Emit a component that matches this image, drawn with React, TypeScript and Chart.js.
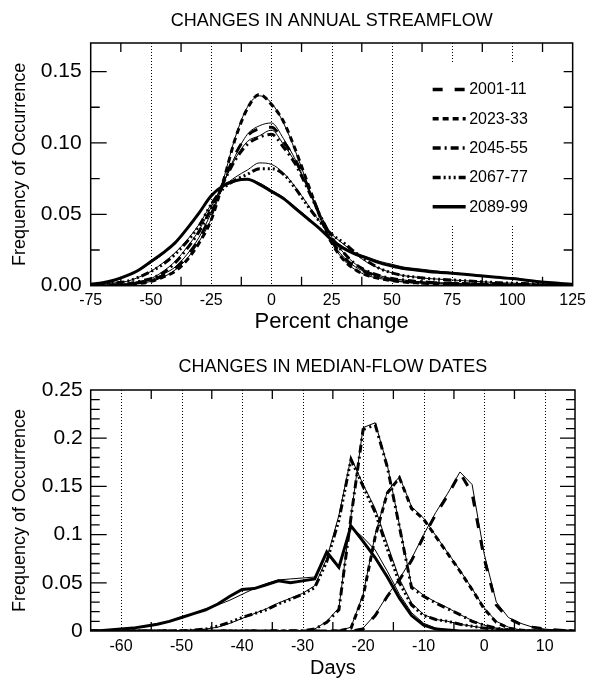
import React, { useEffect, useRef } from "react";
import { Chart, registerables } from "chart.js";

Chart.register(...registerables);

const FONT = "'Liberation Sans', Arial, Helvetica, sans-serif";

// ---------- DATA: top panel (annual streamflow) ----------
const periods = ["2001-11", "2023-33", "2045-55", "2067-77", "2089-99"];

const pctChange = [-75, -70, -65, -60, -55, -50, -45, -40, -35, -30, -25, -20, -15, -10, -5, 0, 5, 10, 15, 20, 25, 30, 35, 40, 45, 50, 55, 60, 65, 70, 75, 80, 85, 90, 95, 100, 105, 110, 115, 120, 125];

const flow2001 = [0, 0, 0.0005, 0.001, 0.002, 0.004, 0.007, 0.012, 0.021, 0.033, 0.050, 0.072, 0.092, 0.105, 0.110, 0.111, 0.101, 0.088, 0.070, 0.050, 0.032, 0.020, 0.013, 0.009, 0.006, 0.004, 0.003, 0.0025, 0.002, 0.002, 0.0015, 0.0012, 0.001, 0.001, 0.0008, 0.0006, 0.0005, 0.0004, 0.0003, 0.0002, 0];
const flow2001Thin = [0, 0, 0.0005, 0.001, 0.002, 0.004, 0.008, 0.013, 0.022, 0.034, 0.051, 0.071, 0.091, 0.106, 0.112, 0.114, 0.103, 0.088, 0.069, 0.049, 0.031, 0.020, 0.013, 0.009, 0.006, 0.004, 0.003, 0.0025, 0.002, 0.0018, 0.0015, 0.0012, 0.001, 0.0009, 0.0008, 0.0006, 0.0005, 0.0004, 0.0003, 0.0002, 0];
const flow2023 = [0, 0, 0.0003, 0.0008, 0.0015, 0.003, 0.006, 0.010, 0.018, 0.030, 0.046, 0.073, 0.103, 0.124, 0.134, 0.127, 0.115, 0.095, 0.072, 0.049, 0.030, 0.018, 0.011, 0.007, 0.005, 0.0035, 0.0025, 0.002, 0.0015, 0.0012, 0.001, 0.0009, 0.0008, 0.0007, 0.0006, 0.0005, 0.0004, 0.0003, 0.0002, 0.0001, 0];
const flow2023Thin = [0, 0, 0.0003, 0.0008, 0.0016, 0.003, 0.006, 0.011, 0.019, 0.031, 0.047, 0.074, 0.104, 0.125, 0.133, 0.128, 0.114, 0.094, 0.071, 0.048, 0.030, 0.018, 0.011, 0.007, 0.005, 0.0035, 0.0025, 0.002, 0.0015, 0.0012, 0.001, 0.0009, 0.0008, 0.0007, 0.0006, 0.0005, 0.0004, 0.0003, 0.0002, 0.0001, 0];
const flow2045 = [0, 0, 0.0005, 0.001, 0.003, 0.005, 0.009, 0.016, 0.026, 0.038, 0.054, 0.072, 0.088, 0.099, 0.104, 0.106, 0.097, 0.085, 0.068, 0.050, 0.034, 0.023, 0.015, 0.010, 0.007, 0.005, 0.004, 0.003, 0.0025, 0.002, 0.0018, 0.0015, 0.0012, 0.001, 0.0008, 0.0006, 0.0005, 0.0004, 0.0003, 0.0002, 0.0001];
const flow2045Thin = [0, 0, 0.0005, 0.001, 0.003, 0.005, 0.010, 0.017, 0.027, 0.039, 0.055, 0.072, 0.089, 0.101, 0.105, 0.109, 0.099, 0.086, 0.069, 0.051, 0.034, 0.023, 0.015, 0.010, 0.007, 0.005, 0.004, 0.003, 0.0025, 0.002, 0.0018, 0.0015, 0.0012, 0.001, 0.0008, 0.0006, 0.0005, 0.0004, 0.0003, 0.0002, 0.0001];
const flow2067 = [0, 0.001, 0.002, 0.003, 0.006, 0.010, 0.015, 0.022, 0.031, 0.042, 0.057, 0.068, 0.074, 0.078, 0.082, 0.082, 0.078, 0.068, 0.056, 0.045, 0.036, 0.030, 0.023, 0.017, 0.012, 0.009, 0.007, 0.006, 0.005, 0.0045, 0.004, 0.0035, 0.003, 0.0025, 0.002, 0.0018, 0.0015, 0.0012, 0.001, 0.0008, 0.0005];
const flow2067Thin = [0, 0.001, 0.002, 0.003, 0.006, 0.010, 0.016, 0.023, 0.032, 0.043, 0.057, 0.069, 0.076, 0.081, 0.086, 0.085, 0.079, 0.069, 0.057, 0.045, 0.036, 0.029, 0.022, 0.016, 0.012, 0.009, 0.007, 0.006, 0.005, 0.0045, 0.004, 0.0035, 0.003, 0.0025, 0.002, 0.0018, 0.0015, 0.0012, 0.001, 0.0008, 0.0005];
const flow2089 = [0.001, 0.002, 0.004, 0.007, 0.011, 0.017, 0.023, 0.030, 0.040, 0.051, 0.063, 0.070, 0.0735, 0.0745, 0.071, 0.066, 0.061, 0.054, 0.047, 0.040, 0.032, 0.026, 0.022, 0.019, 0.016, 0.0138, 0.012, 0.011, 0.010, 0.0093, 0.0087, 0.008, 0.0072, 0.0064, 0.0057, 0.005, 0.004, 0.003, 0.0022, 0.0015, 0.001];
const flow2089Thin = [0.001, 0.002, 0.004, 0.007, 0.011, 0.016, 0.022, 0.030, 0.040, 0.051, 0.062, 0.070, 0.074, 0.0745, 0.072, 0.067, 0.062, 0.055, 0.048, 0.040, 0.033, 0.027, 0.023, 0.020, 0.017, 0.015, 0.013, 0.012, 0.011, 0.010, 0.0092, 0.0083, 0.0075, 0.0066, 0.0058, 0.005, 0.0042, 0.0033, 0.0024, 0.0016, 0.001];

const topXTicks = [-75, -50, -25, 0, 25, 50, 75, 100, 125];
const topYTicks = [0, 0.05, 0.1, 0.15];

// ---------- DATA: bottom panel (median-flow dates) ----------
const days = [-65, -64, -62, -60, -58, -56, -54, -52, -50, -48, -46, -44, -42, -40, -38, -36, -34, -32, -30, -28, -26, -24, -22, -20, -18, -16, -14, -12, -10, -8, -6, -4, -2, 0, 2, 4, 6, 8, 10, 12, 14, 15];

const date2001 = [0, 0, 0, 0, 0, 0, 0, 0, 0, 0, 0, 0, 0, 0, 0, 0, 0, 0, 0, 0, 0, 0, 0, 0.002, 0.016, 0.036, 0.053, 0.073, 0.098, 0.121, 0.141, 0.164, 0.143, 0.075, 0.027, 0.013, 0.007, 0.004, 0.002, 0.001, 0, 0];
const date2001Thin = [0, 0, 0, 0, 0, 0, 0, 0, 0, 0, 0, 0, 0, 0, 0, 0, 0, 0, 0, 0, 0, 0, 0, 0.003, 0.017, 0.037, 0.054, 0.075, 0.100, 0.123, 0.143, 0.165, 0.152, 0.080, 0.030, 0.014, 0.008, 0.004, 0.002, 0.001, 0, 0];
const date2023 = [0, 0, 0, 0, 0, 0, 0, 0, 0, 0, 0, 0, 0, 0, 0, 0, 0, 0, 0, 0, 0, 0, 0.003, 0.036, 0.098, 0.143, 0.159, 0.127, 0.116, 0.098, 0.080, 0.062, 0.043, 0.023, 0.009, 0.003, 0.001, 0, 0, 0, 0, 0];
const date2023Thin = [0, 0, 0, 0, 0, 0, 0, 0, 0, 0, 0, 0, 0, 0, 0, 0, 0, 0, 0, 0, 0, 0, 0.004, 0.038, 0.100, 0.145, 0.160, 0.129, 0.117, 0.099, 0.081, 0.063, 0.044, 0.024, 0.010, 0.004, 0.001, 0, 0, 0, 0, 0];
const date2045 = [0, 0, 0, 0, 0, 0, 0, 0, 0, 0, 0, 0, 0, 0, 0, 0, 0, 0, 0, 0.002, 0.009, 0.022, 0.118, 0.209, 0.214, 0.170, 0.108, 0.045, 0.036, 0.029, 0.023, 0.017, 0.010, 0.006, 0.003, 0.001, 0, 0, 0, 0, 0, 0];
const date2045Thin = [0, 0, 0, 0, 0, 0, 0, 0, 0, 0, 0, 0, 0, 0, 0, 0, 0, 0, 0, 0.002, 0.010, 0.024, 0.120, 0.211, 0.216, 0.172, 0.110, 0.047, 0.037, 0.030, 0.024, 0.017, 0.011, 0.006, 0.003, 0.001, 0, 0, 0, 0, 0, 0];
const date2067 = [0, 0, 0, 0, 0, 0, 0, 0, 0, 0.001, 0.002, 0.005, 0.009, 0.014, 0.018, 0.022, 0.028, 0.033, 0.038, 0.045, 0.072, 0.115, 0.178, 0.150, 0.123, 0.085, 0.050, 0.027, 0.016, 0.012, 0.010, 0.007, 0.005, 0.003, 0.002, 0.001, 0, 0, 0, 0, 0, 0];
const date2067Thin = [0, 0, 0, 0, 0, 0, 0, 0, 0, 0.001, 0.002, 0.004, 0.008, 0.013, 0.018, 0.023, 0.029, 0.034, 0.039, 0.047, 0.075, 0.120, 0.180, 0.152, 0.127, 0.090, 0.054, 0.029, 0.017, 0.012, 0.010, 0.007, 0.005, 0.003, 0.002, 0.001, 0, 0, 0, 0, 0, 0];
const date2089 = [0, 0, 0.001, 0.002, 0.003, 0.005, 0.007, 0.010, 0.014, 0.018, 0.022, 0.028, 0.036, 0.043, 0.044, 0.048, 0.052, 0.050, 0.052, 0.054, 0.082, 0.066, 0.109, 0.093, 0.076, 0.056, 0.034, 0.016, 0.006, 0.002, 0.001, 0, 0, 0, 0, 0, 0, 0, 0, 0, 0, 0];
const date2089Thin = [0, 0, 0.001, 0.002, 0.003, 0.005, 0.007, 0.010, 0.014, 0.018, 0.023, 0.027, 0.032, 0.038, 0.044, 0.049, 0.053, 0.054, 0.055, 0.056, 0.080, 0.065, 0.108, 0.097, 0.084, 0.062, 0.038, 0.019, 0.008, 0.003, 0.001, 0, 0, 0, 0, 0, 0, 0, 0, 0, 0, 0];

const botXTicks = [-60, -50, -40, -30, -20, -10, 0, 10];
const botYTicks = [0, 0.05, 0.1, 0.15, 0.2, 0.25];

// ---------- styles ----------
const dashes = [[10, 12], [6, 4], [8, 4, 2, 4], [8, 3, 2, 3, 2, 3, 2, 3], []];
const THICK = 3;

type Deco = {
  grid: number[];
  xMinor: number[];
  yMajor: number[];
  yMinor: number[];
  rightMajorLen: number;
  legend: boolean;
};

function makeDatasets(xs: number[], thick: number[][], thin: number[][], smooth: boolean) {
  const ds: any[] = [];
  thick.forEach((vals, i) => {
    ds.push({
      label: periods[i],
      data: xs.map((x, j) => ({ x, y: vals[j] })),
      borderColor: "#000",
      borderWidth: THICK,
      borderDash: dashes[i],
      borderCapStyle: "butt",
      pointRadius: 0,
      fill: false,
      cubicInterpolationMode: smooth ? "monotone" : "default",
    });
  });
  thin.forEach((vals, i) => {
    ds.push({
      label: periods[i] + " (thin)",
      data: xs.map((x, j) => ({ x, y: vals[j] })),
      borderColor: "#000",
      borderWidth: 1,
      pointRadius: 0,
      fill: false,
      cubicInterpolationMode: smooth ? "monotone" : "default",
    });
  });
  return ds;
}

function framePlugin(d: Deco) {
  return {
    id: "frame",
    beforeDatasetsDraw(chart: any) {
      const { ctx, chartArea: a, scales } = chart;
      const x = scales.x;
      ctx.save();
      ctx.strokeStyle = "#000";
      ctx.lineWidth = 1;
      ctx.setLineDash([1, 2]);
      for (const v of d.grid) {
        const px = Math.round(x.getPixelForValue(v)) + 0.5;
        ctx.beginPath();
        ctx.moveTo(px, a.top);
        ctx.lineTo(px, a.bottom);
        ctx.stroke();
      }
      ctx.restore();
    },
    afterDatasetsDraw(chart: any) {
      const { ctx, chartArea: a, scales } = chart;
      const x = scales.x;
      const y = scales.y;
      ctx.save();
      if (d.legend) {
        ctx.fillStyle = "#fff";
        ctx.fillRect(a.right - 146, a.top + 20, 112, 163);
        ctx.font = "16px " + FONT;
        ctx.textBaseline = "middle";
        ctx.textAlign = "left";
        periods.forEach((p, i) => {
          const ry = a.top + 46.5 + i * 29.3;
          ctx.strokeStyle = "#000";
          ctx.lineWidth = 3.5;
          ctx.lineCap = "butt";
          ctx.setLineDash(dashes[i]);
          ctx.beginPath();
          ctx.moveTo(a.right - 140, ry);
          ctx.lineTo(a.right - 107, ry);
          ctx.stroke();
          ctx.setLineDash([]);
          ctx.fillStyle = "#000";
          ctx.fillText(p, a.right - 103.5, ry + 0.5);
        });
      }
      ctx.setLineDash([]);
      ctx.strokeStyle = "#000";
      ctx.lineWidth = 1.5;
      ctx.strokeRect(a.left, a.top, a.right - a.left, a.bottom - a.top);
      ctx.lineWidth = 1.3;
      ctx.beginPath();
      for (const v of d.yMajor) {
        const py = y.getPixelForValue(v);
        ctx.moveTo(a.left, py);
        ctx.lineTo(a.left + 16, py);
        ctx.moveTo(a.right, py);
        ctx.lineTo(a.right - d.rightMajorLen, py);
      }
      for (const v of d.yMinor) {
        const py = y.getPixelForValue(v);
        ctx.moveTo(a.left, py);
        ctx.lineTo(a.left + 9, py);
        ctx.moveTo(a.right, py);
        ctx.lineTo(a.right - 9, py);
      }
      for (const v of d.xMinor) {
        const px = x.getPixelForValue(v);
        ctx.moveTo(px, a.top);
        ctx.lineTo(px, a.top + 9);
        ctx.moveTo(px, a.bottom);
        ctx.lineTo(px, a.bottom - 9);
      }
      ctx.stroke();
      ctx.restore();
    },
  };
}

function baseOptions(opts: {
  title: string;
  titlePad: { top: number; bottom: number };
  rightPad: number;
  xMin: number;
  xMax: number;
  xTicks: number[];
  xHeight: number;
  xPad: number;
  xTitle: string;
  xTitleSize: number;
  xTitlePad: number;
  yMax: number;
  yTicks: number[];
  yPad: number;
  yFmt: (v: number) => string;
}) {
  return {
    responsive: false,
    animation: false,
    devicePixelRatio: 1,
    events: [],
    layout: { padding: { top: 0, right: opts.rightPad, bottom: 0, left: 0 } },
    plugins: {
      legend: { display: false },
      tooltip: { enabled: false },
      title: {
        display: true,
        text: opts.title,
        fullSize: false,
        color: "#000",
        font: { size: 18, family: FONT, weight: "normal", lineHeight: 1.2 },
        padding: opts.titlePad,
      },
    },
    scales: {
      x: {
        type: "linear",
        min: opts.xMin,
        max: opts.xMax,
        afterBuildTicks: (s: any) => {
          s.ticks = opts.xTicks.map((v) => ({ value: v }));
        },
        afterFit: (s: any) => {
          s.height = opts.xHeight;
        },
        grid: { display: false, drawTicks: false },
        border: { display: false },
        ticks: {
          color: "#000",
          font: { size: 16, family: FONT },
          padding: opts.xPad,
          autoSkip: false,
          maxRotation: 0,
          callback: (v: any) => String(v),
        },
        title: {
          display: true,
          text: opts.xTitle,
          color: "#000",
          font: { size: opts.xTitleSize, family: FONT, lineHeight: 1.2 },
          padding: { top: 0, bottom: opts.xTitlePad },
        },
      },
      y: {
        type: "linear",
        min: 0,
        max: opts.yMax,
        afterBuildTicks: (s: any) => {
          s.ticks = opts.yTicks.map((v) => ({ value: v }));
        },
        afterFit: (s: any) => {
          s.width = 90.7;
        },
        grid: { display: false, drawTicks: false },
        border: { display: false },
        ticks: {
          color: "#000",
          font: { size: 21, family: FONT },
          padding: opts.yPad,
          autoSkip: false,
          callback: (v: any) => opts.yFmt(Number(v)),
        },
        title: {
          display: true,
          text: "Frequency of Occurrence",
          color: "#000",
          font: { size: 18, family: FONT, lineHeight: 1.2 },
          padding: { top: 9, bottom: 0 },
        },
      },
    },
  };
}

function topConfig(): any {
  return {
    type: "line",
    data: {
      datasets: makeDatasets(
        pctChange,
        [flow2001, flow2023, flow2045, flow2067, flow2089],
        [flow2001Thin, flow2023Thin, flow2045Thin, flow2067Thin, flow2089Thin],
        true
      ),
    },
    options: baseOptions({
      title: "CHANGES IN ANNUAL STREAMFLOW",
      titlePad: { top: 10.2, bottom: 11.2 },
      rightPad: 15.7,
      xMin: -75,
      xMax: 125,
      xTicks: topXTicks,
      xHeight: 55.3,
      xPad: 5,
      xTitle: "Percent change",
      xTitleSize: 22,
      xTitlePad: 5.4,
      yMax: 0.17,
      yTicks: topYTicks,
      yPad: 9,
      yFmt: (v) => v.toFixed(2),
    }),
    plugins: [
      framePlugin({
        grid: [-50, -25, 0, 25, 50, 75, 100],
        xMinor: [-62.5, -37.5, -12.5, 12.5, 37.5, 62.5, 87.5, 112.5],
        yMajor: [0.05, 0.1, 0.15],
        yMinor: [0.025, 0.075, 0.125],
        rightMajorLen: 9,
        legend: true,
      }),
    ],
  };
}

function bottomConfig(): any {
  return {
    type: "line",
    data: {
      datasets: makeDatasets(
        days,
        [date2001, date2023, date2045, date2067, date2089],
        [date2001Thin, date2023Thin, date2045Thin, date2067Thin, date2089Thin],
        false
      ),
    },
    options: baseOptions({
      title: "CHANGES IN MEDIAN-FLOW DATES",
      titlePad: { top: 15.2, bottom: 12.2 },
      rightPad: 16,
      xMin: -65,
      xMax: 15,
      xTicks: botXTicks,
      xHeight: 51,
      xPad: 5.5,
      xTitle: "Days",
      xTitleSize: 20,
      xTitlePad: 2,
      yMax: 0.25,
      yTicks: botYTicks,
      yPad: 8,
      yFmt: (v) => String(parseFloat(v.toFixed(2))),
    }),
    plugins: [
      framePlugin({
        grid: [-60, -50, -40, -30, -20, -10, 0, 10],
        xMinor: [-55, -45, -35, -25, -15, -5, 5],
        yMajor: [0.05, 0.1, 0.15, 0.2],
        yMinor: [0.01, 0.02, 0.03, 0.04, 0.06, 0.07, 0.08, 0.09, 0.11, 0.12, 0.13, 0.14, 0.16, 0.17, 0.18, 0.19, 0.21, 0.22, 0.23, 0.24],
        rightMajorLen: 15,
        legend: false,
      }),
    ],
  };
}

function Panel({ make, top }: { make: () => any; top: number }) {
  const ref = useRef<HTMLCanvasElement>(null);
  useEffect(() => {
    const chart = new Chart(ref.current as HTMLCanvasElement, make());
    return () => chart.destroy();
  }, [make]);
  return (
    <canvas
      ref={ref}
      width={591}
      height={341}
      style={{ position: "absolute", left: 0, top, width: 591, height: 341 }}
    />
  );
}

export default function App() {
  return (
    <div style={{ position: "absolute", left: 0, top: 0, width: 591, height: 682, background: "#fff" }}>
      <Panel make={topConfig} top={0} />
      <Panel make={bottomConfig} top={341} />
    </div>
  );
}
